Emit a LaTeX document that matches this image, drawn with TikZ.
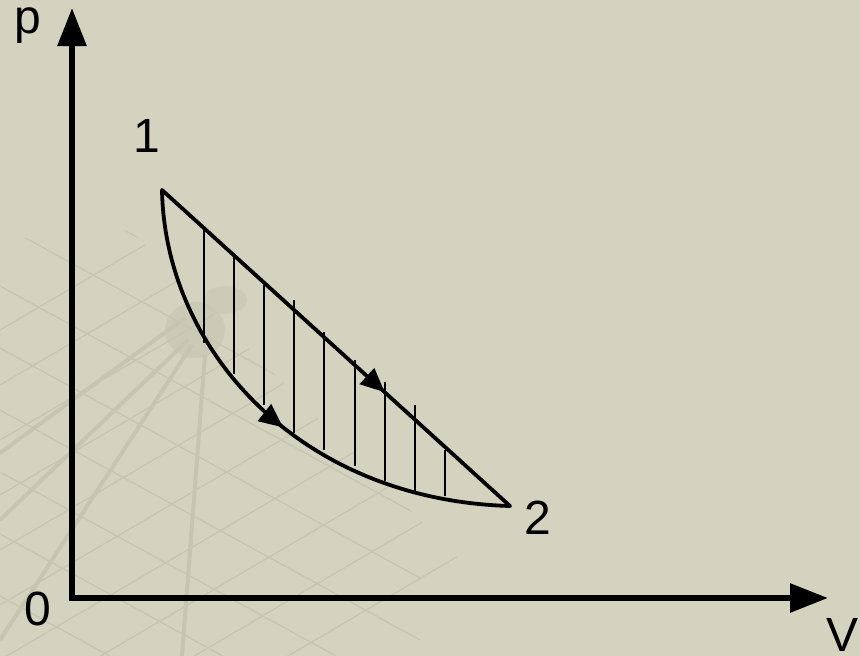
\documentclass[tikz,border=0pt]{standalone}
\usepackage{fontspec}
\setmainfont{Liberation Sans}
\usetikzlibrary{arrows.meta,decorations.markings}
\definecolor{bg}{RGB}{211,211,191}
\definecolor{gridc}{RGB}{197,197,177}
\begin{document}
\begin{tikzpicture}[x=1pt,y=-1pt,
  axisline/.style={line width=6pt,-{Triangle[length=38pt,width=28pt]}},
  procline/.style={line width=3.8pt,line cap=round,line join=miter},
  hatchline/.style={line width=2pt},
  lbl/.style={font=\fontsize{48}{48}\selectfont,anchor=base,inner sep=0pt},
  bgline/.style={draw=gridc,line width=1.3pt},
  bgthick/.style={draw=gridc,line width=4pt},
  midarrow/.style={postaction={decorate},decoration={markings,
     mark=at position #1 with {\arrow{Triangle[length=24pt,width=21pt]}}}}]
\fill[bg] (0,0) rectangle (860,656);
\useasboundingbox (0,0) rectangle (860,656);
% faint background pattern
\begin{scope}
\clip (0,240) -- (130,230) -- (330,430) -- (460,560) -- (460,656) -- (0,656) -- cycle;
\foreach \k in {0,...,9} {
  \draw[bgline] (0,{100+\k*62}) -- ({420},{330+\k*62});
  \draw[bgline] (0,{330+\k*55}) -- ({460},{60+\k*55});
}
\end{scope}
\draw[bgthick] (0,453) -- (185,318);
\draw[bgthick] (188,340) -- (0,520);
\draw[bgthick] (192,345) -- (0,640);
\draw[bgthick] (205,355) -- (182,656);
\fill[gridc,opacity=0.6] (195,330) ellipse (30 and 28);
\fill[gridc,opacity=0.5] (225,300) ellipse (22 and 14);
% axes
\coordinate (O) at (72,598);
\coordinate (ytip) at (72,8);
\coordinate (xtip) at (828,598);
\draw[axisline] (72,601) -- (ytip);
\draw[axisline] (69,598) -- (xtip);
% states
\coordinate (s1) at (162,190);
\coordinate (s2) at (510,506);
% hatch
\foreach \x/\a/\b in {204/228/343,234/253/374,264/285/405,294/300/433,324/332/450,355/360/466,385/382/481,415/405/492,445/450/496}
  \draw[hatchline] (\x,\a) -- (\x,\b);
% processes
\draw[procline,midarrow=0.64] (s1) -- (s2);
\draw[procline,midarrow=0.53] (s1) .. controls (165,350) and (300,500) .. (s2);
% labels
\node[lbl] (lp) at (28,33) {p};
\node[lbl] (l1) at (147,152) {1};
\node[lbl] (l2) at (538,534) {2};
\node[lbl] (l0) at (38,625) {0};
\node[lbl] (lV) at (843,651) {V};
\end{tikzpicture}
\end{document}
